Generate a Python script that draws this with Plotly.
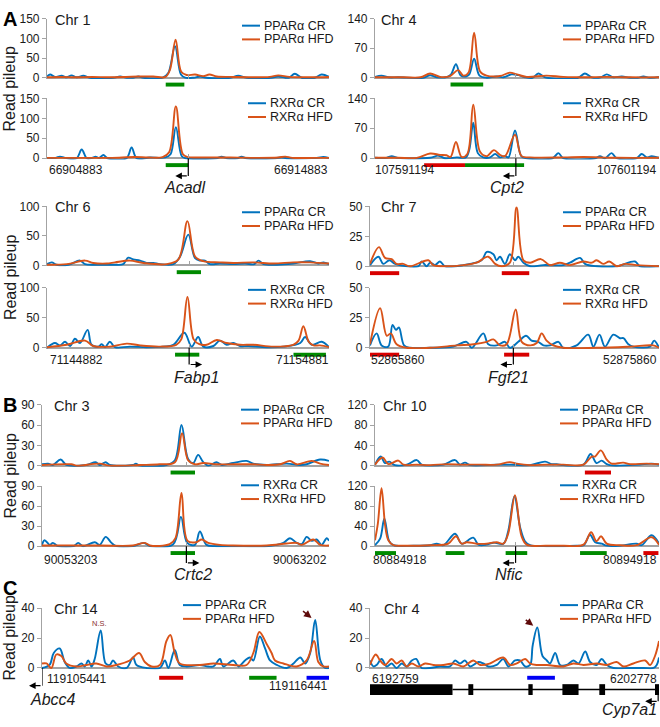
import plotly.graph_objects as go

# ======================= DATA =======================
genes = ['Acadl', 'Cpt2', 'Fabp1', 'Fgf21', 'Crtc2', 'Nfic', 'Abcc4', 'Cyp7a1']
chroms = ['Chr 1', 'Chr 4', 'Chr 6', 'Chr 7', 'Chr 3', 'Chr 10', 'Chr 14', 'Chr 4']
region_start = [66904883, 107591194, 71144882, 52865860, 90053203, 80884918, 119105441, 6192759]
region_end = [66914883, 107601194, 71154881, 52875860, 90063202, 80894918, 119116441, 6202778]
y_max = [150, 140, 100, 50, 90, 120, 40, 40]
y_step = [50, 70, 50, 25, 30, 40, 20, 20]
tss_kb = [5.01, 4.96, 5.04, 4.96, 5.03, 4.95, 0.0, 9.99]
strand = [-1, -1, 1, -1, 1, -1, -1, -1]

# positions in kb from region start, values = read pileup
acadl_ppar_cr_x = [0, 0.11, 0.28, 0.52, 0.70, 0.87, 1.05, 1.29, 1.52, 2.35, 2.59, 2.83, 3.05, 3.24, 3.42, 4.10, 4.30, 4.54, 4.75, 4.90, 5.20, 5.43, 5.65, 6.50, 6.78, 7.08, 7.95, 8.20, 8.45, 8.58, 8.79, 9.03, 9.50, 9.74, 10.0]
acadl_ppar_cr_y = [3, 8, 2, 5, 1, 6, 1, 5, 0, 0, 3, 0, 0, 3, 0, 0, 12, 80, 8, 0, 0, 3, 0, 0, 5, 0, 0, 3, 0, 0, 10, 0, 0, 8, 2]
acadl_ppar_hfd_x = [0, 0.5, 1.0, 1.6, 2.2, 2.8, 3.24, 3.77, 4.20, 4.36, 4.56, 4.76, 4.95, 5.25, 5.54, 5.76, 6.02, 6.60, 7.30, 7.90, 8.20, 8.60, 9.30, 10.0]
acadl_ppar_hfd_y = [1, 2, 1, 2, 1, 2, 3, 3, 2, 20, 97, 15, 7, 8, 4, 8, 3, 2, 1, 2, 6, 2, 1, 2]
acadl_rxr_cr_x = [0, 0.30, 0.46, 0.65, 1.05, 1.23, 1.41, 1.60, 1.72, 1.85, 2.00, 2.15, 2.82, 3.00, 3.18, 3.65, 4.20, 4.38, 4.57, 4.78, 4.92, 6.00, 6.19, 6.38, 6.75, 6.90, 7.08, 8.10, 8.32, 8.50, 9.56, 9.80, 10.0]
acadl_rxr_cr_y = [1, 1, 4, 1, 0, 22, 0, 1, 4, 1, 8, 0, 0, 27, 0, 2, 2, 10, 78, 5, 0, 0, 4, 0, 0, 4, 0, 0, 2, 0, 1, 3, 1]
acadl_rxr_hfd_x = [0, 0.8, 1.6, 2.3, 3.1, 3.6, 4.1, 4.33, 4.57, 4.82, 5.0, 5.4, 6.5, 7.5, 8.2, 8.45, 8.7, 9.5, 10.0]
acadl_rxr_hfd_y = [1, 1, 1, 1, 3, 2, 3, 15, 130, 10, 3, 2, 2, 1, 2, 4, 1, 1, 1]

cpt2_ppar_cr_x = [0, 0.23, 0.47, 0.82, 1.70, 1.94, 2.17, 2.55, 2.68, 2.85, 3.02, 3.20, 3.32, 3.49, 3.68, 3.93, 4.28, 4.52, 4.81, 5.05, 5.28, 5.55, 5.75, 5.99, 7.15, 7.39, 7.63, 7.95, 8.16, 8.39, 8.69, 8.98, 9.25, 9.45, 9.68, 10.0]
cpt2_ppar_cr_y = [2, 5, 1, 1, 0, 6, 1, 2, 8, 32, 5, 3, 8, 45, 5, 0, 3, 1, 8, 6, 1, 0, 10, 1, 0, 10, 1, 1, 8, 1, 3, 0, 0, 3, 0, 2]
cpt2_ppar_hfd_x = [0, 1.0, 1.6, 1.94, 2.29, 2.64, 2.93, 3.11, 3.29, 3.49, 3.70, 3.93, 4.40, 4.75, 4.99, 5.34, 6.04, 6.63, 7.40, 8.16, 9.0, 10.0]
cpt2_ppar_hfd_y = [1, 1, 1, 10, 2, 4, 18, 5, 12, 107, 15, 5, 4, 12, 8, 2, 5, 2, 1, 2, 1, 1]
cpt2_rxr_cr_x = [0, 0.40, 0.59, 0.80, 1.94, 2.23, 2.46, 2.88, 3.20, 3.32, 3.46, 3.62, 3.81, 4.05, 4.23, 4.40, 4.58, 4.70, 4.93, 5.15, 5.34, 6.25, 6.46, 6.63, 7.75, 7.92, 8.10, 8.33, 8.51, 9.20, 9.39, 9.57, 9.74, 10.0]
cpt2_rxr_cr_y = [1, 1, 5, 1, 1, 6, 0, 2, 2, 20, 83, 12, 2, 2, 10, 2, 5, 2, 65, 5, 0, 0, 12, 0, 0, 5, 0, 12, 0, 0, 10, 2, 5, 1]
cpt2_rxr_hfd_x = [0, 0.80, 1.47, 1.94, 2.29, 2.52, 2.66, 2.85, 3.05, 3.25, 3.46, 3.70, 3.93, 4.19, 4.40, 4.58, 4.93, 5.16, 5.46, 6.63, 7.34, 8.50, 10.0]
cpt2_rxr_hfd_y = [1, 1, 1, 11, 8, 7, 3, 38, 3, 10, 125, 15, 5, 19, 8, 5, 55, 5, 2, 2, 3, 1, 1]

fabp1_ppar_cr_x = [0, 0.17, 0.34, 0.76, 1.17, 1.35, 1.76, 2.35, 2.70, 2.88, 3.06, 3.30, 3.53, 3.77, 4.01, 4.48, 4.72, 5.01, 5.25, 5.43, 5.60, 5.78, 6.13, 6.61, 7.02, 7.35, 7.50, 7.68, 8.16, 8.73, 9.33, 9.62, 9.80, 10.0]
fabp1_ppar_cr_y = [2, 5, 1, 1, 8, 2, 1, 1, 2, 13, 10, 8, 4, 4, 2, 2, 15, 52, 12, 8, 8, 2, 3, 2, 3, 2, 8, 2, 1, 3, 7, 3, 5, 2]
fabp1_ppar_hfd_x = [0, 0.70, 1.35, 1.64, 2.12, 2.41, 2.94, 3.42, 4.24, 4.66, 4.98, 5.25, 5.54, 6.13, 6.61, 7.32, 8.03, 8.73, 9.33, 10.0]
fabp1_ppar_hfd_y = [1, 2, 8, 4, 3, 5, 8, 4, 2, 10, 75, 15, 7, 5, 4, 5, 3, 5, 5, 3]
fabp1_rxr_cr_x = [0, 0.28, 0.46, 0.64, 0.82, 0.99, 1.17, 1.44, 1.58, 1.82, 1.94, 2.06, 2.23, 2.41, 2.94, 3.53, 4.13, 4.48, 4.87, 5.13, 5.36, 5.54, 5.90, 6.13, 6.37, 6.61, 6.84, 7.14, 7.79, 8.39, 8.98, 9.15, 9.39, 9.74, 10.0]
fabp1_rxr_cr_y = [0, 8, 4, 10, 3, 15, 8, 30, 5, 2, 6, 1, 10, 1, 2, 1, 2, 5, 25, 2, 18, 2, 3, 12, 5, 8, 3, 3, 1, 2, 8, 18, 5, 10, 1]
fabp1_rxr_hfd_x = [0, 0.70, 1.35, 1.64, 2.23, 2.83, 3.30, 4.01, 4.58, 4.76, 4.98, 5.20, 5.40, 5.66, 6.02, 6.37, 6.84, 7.32, 8.03, 8.73, 8.92, 9.09, 9.28, 9.45, 9.68, 10.0]
fabp1_rxr_hfd_y = [1, 5, 12, 3, 2, 7, 4, 2, 5, 14, 85, 14, 6, 5, 13, 8, 5, 5, 2, 5, 12, 36, 10, 4, 4, 1]

fgf21_ppar_cr_x = [0, 0.29, 0.46, 0.67, 0.87, 1.67, 1.79, 1.96, 2.08, 2.25, 2.42, 2.60, 3.23, 3.86, 4.04, 4.27, 4.38, 4.50, 4.67, 4.84, 5.02, 5.13, 5.31, 5.54, 6.00, 6.69, 6.92, 7.27, 7.44, 7.84, 8.54, 9.17, 9.34, 10.0]
fgf21_ppar_cr_y = [1, 8, 2, 5, 2, 0, 4, 0, 3, 1, 4, 0, 1, 5, 12, 10, 5, 8, 2, 10, 5, 8, 3, 0, 1, 1, 3, 7, 2, 0, 0, 4, 0, 0]
fgf21_ppar_hfd_x = [0, 0.31, 0.52, 0.75, 0.92, 1.15, 1.38, 2.02, 2.19, 2.65, 3.23, 3.69, 4.09, 4.33, 4.56, 4.84, 5.07, 5.31, 5.54, 5.91, 6.23, 6.57, 6.92, 7.38, 7.67, 7.84, 8.07, 8.28, 8.54, 8.82, 9.23, 10.0]
fgf21_ppar_hfd_y = [2, 16, 7, 6, 2, 2, 0, 5, 1, 0, 1, 3, 8, 2, 0, 3, 49, 5, 3, 6, 1, 3, 1, 4, 3, 5, 2, 4, 0, 2, 1, 0]
fgf21_rxr_cr_x = [0, 0.23, 0.40, 0.63, 0.78, 0.90, 1.00, 1.18, 1.38, 2.08, 2.88, 3.34, 3.52, 3.92, 4.09, 4.38, 4.67, 4.84, 5.13, 5.40, 5.59, 5.82, 6.00, 6.23, 6.52, 6.69, 7.15, 7.55, 7.73, 7.94, 8.13, 8.42, 8.65, 8.77, 8.94, 9.11, 9.69, 9.83, 10.0]
fgf21_rxr_cr_y = [2, 12, 2, 1, 19, 15, 17, 2, 0, 0, 1, 5, 0, 12, 3, 2, 5, 0, 5, 10, 6, 5, 2, 2, 5, 0, 2, 11, 1, 11, 1, 11, 8, 8, 3, 1, 1, 6, 0]
fgf21_rxr_hfd_x = [0, 0.35, 0.58, 0.72, 0.92, 1.27, 2.08, 3.00, 3.58, 4.04, 4.27, 4.50, 4.73, 5.04, 5.25, 5.54, 5.77, 5.94, 6.11, 6.34, 6.69, 7.84, 9.00, 9.80, 10.0]
fgf21_rxr_hfd_y = [3, 33, 10, 12, 3, 0, 0, 2, 3, 5, 7, 2, 3, 32, 5, 2, 4, 12, 6, 2, 0, 0, 1, 2, 0]

crtc2_ppar_cr_x = [0, 0.21, 0.38, 0.65, 0.85, 1.55, 1.87, 2.01, 2.22, 2.36, 3.17, 3.27, 3.41, 4.34, 4.63, 4.86, 5.09, 5.27, 5.44, 5.62, 5.79, 6.08, 6.26, 6.66, 7.13, 7.36, 7.83, 8.52, 8.99, 9.22, 9.69, 10.0]
crtc2_ppar_cr_y = [2, 3, 1, 9, 1, 1, 5, 1, 5, 1, 1, 3, 0, 1, 8, 60, 10, 4, 16, 5, 0, 5, 1, 4, 7, 3, 1, 3, 1, 2, 9, 7]
crtc2_ppar_hfd_x = [0, 1.02, 1.20, 2.01, 2.36, 3.41, 4.10, 4.63, 4.88, 5.09, 5.33, 5.62, 6.08, 6.66, 7.36, 7.83, 8.29, 8.64, 8.87, 9.40, 9.69, 10.0]
crtc2_ppar_hfd_y = [1, 2, 0, 3, 0, 1, 2, 5, 48, 8, 2, 4, 2, 2, 2, 1, 2, 7, 2, 7, 3, 1]
crtc2_rxr_cr_x = [0, 0.09, 0.27, 0.38, 0.56, 1.10, 1.26, 1.43, 1.84, 2.01, 2.22, 2.42, 2.59, 3.17, 3.55, 3.76, 4.57, 4.84, 5.06, 5.33, 5.50, 5.73, 6.08, 6.66, 7.83, 8.41, 8.64, 8.87, 9.05, 9.22, 9.40, 9.57, 9.74, 9.92, 10.0]
crtc2_rxr_cr_y = [2, 9, 2, 5, 0, 0, 5, 0, 6, 2, 14, 5, 0, 0, 5, 0, 3, 44, 5, 2, 22, 2, 0, 0, 0, 5, 12, 5, 3, 14, 8, 10, 2, 12, 8]
crtc2_rxr_hfd_x = [0, 2.01, 3.17, 3.58, 3.76, 4.45, 4.65, 4.86, 5.07, 5.38, 5.56, 5.79, 6.20, 6.66, 7.83, 8.52, 8.87, 9.05, 9.45, 9.69, 10.0]
crtc2_rxr_hfd_y = [1, 1, 1, 5, 1, 3, 12, 80, 8, 6, 10, 5, 2, 1, 1, 4, 5, 2, 10, 2, 1]

nfic_ppar_cr_x = [0, 0.20, 0.35, 0.50, 0.70, 1.12, 1.47, 1.64, 1.94, 2.41, 2.82, 2.99, 3.17, 3.35, 4.28, 4.81, 5.46, 5.99, 6.22, 6.40, 6.63, 7.34, 7.59, 7.80, 7.98, 8.16, 8.39, 8.98, 9.33, 9.74, 10.0]
nfic_ppar_cr_y = [2, 18, 5, 8, 1, 2, 11, 2, 0, 2, 11, 2, 6, 1, 2, 2, 1, 8, 3, 3, 1, 2, 23, 5, 10, 3, 0, 1, 2, 4, 2]
nfic_ppar_hfd_x = [0, 0.27, 0.47, 0.82, 1.00, 1.47, 1.94, 2.52, 3.11, 3.70, 4.28, 4.75, 4.99, 5.46, 6.04, 6.63, 7.34, 7.63, 7.75, 7.95, 8.16, 8.33, 8.74, 8.98, 9.57, 10.0]
nfic_ppar_hfd_y = [2, 16, 3, 10, 2, 2, 1, 3, 2, 2, 2, 7, 4, 1, 2, 2, 2, 18, 18, 30, 12, 4, 6, 3, 4, 3]
nfic_rxr_cr_x = [0, 0.18, 0.33, 0.50, 0.65, 1.35, 1.94, 2.17, 2.41, 2.82, 3.05, 3.46, 3.64, 3.93, 4.17, 4.52, 4.69, 4.91, 5.11, 5.28, 5.46, 6.04, 6.63, 7.10, 7.35, 7.57, 7.75, 7.98, 8.16, 8.63, 9.21, 9.39, 9.74, 10.0]
nfic_rxr_cr_y = [2, 15, 55, 10, 2, 1, 2, 5, 2, 25, 5, 17, 3, 3, 7, 5, 30, 100, 38, 10, 2, 0, 0, 1, 2, 23, 8, 5, 1, 1, 5, 2, 22, 5]
nfic_rxr_hfd_x = [0, 0.10, 0.23, 0.36, 0.47, 0.65, 1.00, 1.94, 2.58, 2.85, 3.05, 3.23, 3.58, 3.93, 4.28, 4.52, 4.69, 4.93, 5.16, 5.34, 6.04, 6.63, 7.34, 7.61, 7.80, 7.96, 8.16, 8.63, 9.21, 9.74, 10.0]
nfic_rxr_hfd_y = [12, 45, 116, 40, 12, 2, 1, 2, 5, 20, 5, 8, 5, 5, 8, 5, 25, 102, 20, 3, 1, 1, 3, 28, 10, 20, 5, 2, 2, 18, 3]

abcc4_ppar_cr_x = [0, 0.29, 0.45, 0.68, 0.87, 1.06, 1.32, 1.51, 1.64, 1.77, 1.90, 2.02, 2.25, 2.44, 2.60, 2.72, 2.92, 3.24, 3.49, 3.62, 4.00, 4.52, 4.71, 4.84, 5.09, 5.28, 5.54, 6.05, 6.37, 6.57, 6.82, 6.95, 7.33, 7.53, 7.78, 7.97, 8.10, 8.35, 8.55, 8.74, 9.00, 9.38, 9.64, 9.90, 10.09, 10.28, 10.47, 10.67, 10.85, 11.0]
abcc4_ppar_cr_y = [0, 2, 10, 13, 4, 0, 1, 3, 1, 5, 1, 6, 25, 3, 2, 5, 1, 0, 7, 2, 0, 0, 5, 0, 12, 2, 1, 2, 1, 1, 6, 1, 5, 1, 5, 7, 5, 21, 13, 5, 2, 0, 3, 7, 3, 10, 32, 5, 0, 0]
abcc4_ppar_hfd_x = [0, 0.17, 0.36, 0.55, 0.74, 0.93, 1.32, 1.70, 2.08, 2.47, 2.85, 3.36, 3.72, 3.94, 4.20, 4.52, 4.77, 4.92, 5.09, 5.28, 6.05, 6.57, 7.33, 7.84, 8.10, 8.33, 8.61, 8.80, 8.93, 9.25, 9.76, 10.14, 10.43, 10.59, 10.78, 11.0]
abcc4_ppar_hfd_y = [3, 3, 0, 9, 8, 3, 1, 2, 3, 1, 2, 5, 10, 4, 1, 2, 18, 22, 10, 3, 2, 3, 2, 2, 10, 24, 16, 10, 5, 3, 1, 5, 18, 4, 1, 1]

cyp7a1_ppar_cr_x = [0, 0.12, 0.23, 0.40, 0.58, 0.75, 0.92, 1.10, 1.27, 1.45, 1.60, 1.79, 2.08, 2.43, 2.77, 2.95, 3.12, 3.29, 3.47, 3.76, 3.93, 4.10, 4.39, 4.62, 4.80, 5.03, 5.20, 5.38, 5.55, 5.64, 5.80, 5.98, 6.13, 6.24, 6.42, 6.59, 6.82, 7.05, 7.23, 7.46, 7.63, 7.86, 8.03, 8.21, 8.44, 9.02, 9.48, 9.83, 9.94, 10.02]
cyp7a1_ppar_cr_y = [5, 1, 2, 6, 1, 3, 0, 3, 1, 5, 6, 0, 0, 1, 1, 5, 3, 5, 1, 4, 3, 1, 2, 6, 1, 5, 5, 1, 2, 15, 27, 8, 5, 3, 10, 2, 2, 5, 3, 11, 4, 2, 6, 2, 0, 0, 0, 0, 2, 7]
cyp7a1_ppar_hfd_x = [0, 0.20, 0.35, 0.52, 0.75, 0.92, 1.10, 1.27, 1.45, 1.68, 1.91, 2.20, 2.54, 2.89, 3.24, 3.58, 3.82, 4.16, 4.62, 4.86, 5.09, 5.38, 5.55, 5.78, 6.13, 6.71, 7.05, 7.40, 7.86, 8.21, 8.55, 8.79, 9.13, 9.54, 9.71, 9.88, 10.02]
cyp7a1_ppar_hfd_y = [2, 9, 5, 2, 6, 3, 5, 1, 3, 1, 3, 2, 2, 3, 1, 5, 2, 3, 7, 2, 3, 6, 3, 2, 2, 1, 3, 2, 3, 2, 4, 1, 3, 5, 2, 8, 18]

# binding-site regions (kb start, kb end, colour code)
acadl_ppar_sites = [(4.21, 4.87, 'g')]
acadl_rxr_sites = [(4.21, 5.01, 'g')]
cpt2_ppar_sites = [(2.66, 3.81, 'g')]
cpt2_rxr_sites = [(1.73, 3.17, 'r'), (3.17, 5.25, 'g')]
fabp1_ppar_sites = [(4.60, 5.46, 'g')]
fabp1_rxr_sites = [(4.54, 5.40, 'g'), (8.74, 9.89, 'g')]
fgf21_ppar_sites = [(0.0, 1.01, 'r'), (4.56, 5.51, 'r')]
fgf21_rxr_sites = [(0.0, 1.01, 'r'), (4.64, 5.51, 'r')]
crtc2_ppar_sites = [(4.48, 5.33, 'g')]
crtc2_rxr_sites = [(4.48, 5.33, 'g')]
nfic_ppar_sites = [(7.39, 8.31, 'r')]
nfic_rxr_sites = [(0.0, 0.74, 'g'), (2.49, 3.15, 'g'), (4.60, 5.36, 'g'), (7.22, 8.16, 'g'), (9.45, 9.98, 'r')]
abcc4_ppar_sites = [(4.49, 5.41, 'r'), (7.94, 8.99, 'g'), (10.14, 11.0, 'b')]
cyp7a1_ppar_sites = [(5.45, 6.41, 'b')]

# Cyp7a1 gene model (kb)
cyp7a1_exons = [(0.0, 2.86), (3.41, 3.58), (5.49, 5.64), (6.67, 7.23), (7.95, 8.15), (9.88, 10.02)]
cyp7a1_chevrons = [3.06, 3.87, 4.57, 5.14, 6.07, 6.47, 7.57, 8.55, 9.08, 9.54]

# highlighted peaks (kb, pileup)
abcc4_marked_peak = (10.33, 33.4)
abcc4_ns_peak = (2.21, 29.5)
cyp7a1_marked_peak = (5.66, 28.2)

# ======================= FIGURE =======================
W, H = 660, 727
FONT = 'Arial, Liberation Sans, sans-serif'
TXT = '#1a1a1a'
AX = '#a3a3a3'
BLUE, ORANGE = '#0072BD', '#D95319'
SITE_COL = {'g': '#008a00', 'r': '#d80000', 'b': '#0000f5'}


def fx(p):
    return p / W


def fy(p):
    return 1 - p / H


track_gene = [0, 0, 1, 1, 2, 2, 3, 3, 4, 4, 5, 5, 6, 7]
track_factor = ['PPARα', 'RXRα'] * 6 + ['PPARα', 'PPARα']
track_series = [
    (acadl_ppar_cr_x, acadl_ppar_cr_y, acadl_ppar_hfd_x, acadl_ppar_hfd_y),
    (acadl_rxr_cr_x, acadl_rxr_cr_y, acadl_rxr_hfd_x, acadl_rxr_hfd_y),
    (cpt2_ppar_cr_x, cpt2_ppar_cr_y, cpt2_ppar_hfd_x, cpt2_ppar_hfd_y),
    (cpt2_rxr_cr_x, cpt2_rxr_cr_y, cpt2_rxr_hfd_x, cpt2_rxr_hfd_y),
    (fabp1_ppar_cr_x, fabp1_ppar_cr_y, fabp1_ppar_hfd_x, fabp1_ppar_hfd_y),
    (fabp1_rxr_cr_x, fabp1_rxr_cr_y, fabp1_rxr_hfd_x, fabp1_rxr_hfd_y),
    (fgf21_ppar_cr_x, fgf21_ppar_cr_y, fgf21_ppar_hfd_x, fgf21_ppar_hfd_y),
    (fgf21_rxr_cr_x, fgf21_rxr_cr_y, fgf21_rxr_hfd_x, fgf21_rxr_hfd_y),
    (crtc2_ppar_cr_x, crtc2_ppar_cr_y, crtc2_ppar_hfd_x, crtc2_ppar_hfd_y),
    (crtc2_rxr_cr_x, crtc2_rxr_cr_y, crtc2_rxr_hfd_x, crtc2_rxr_hfd_y),
    (nfic_ppar_cr_x, nfic_ppar_cr_y, nfic_ppar_hfd_x, nfic_ppar_hfd_y),
    (nfic_rxr_cr_x, nfic_rxr_cr_y, nfic_rxr_hfd_x, nfic_rxr_hfd_y),
    (abcc4_ppar_cr_x, abcc4_ppar_cr_y, abcc4_ppar_hfd_x, abcc4_ppar_hfd_y),
    (cyp7a1_ppar_cr_x, cyp7a1_ppar_cr_y, cyp7a1_ppar_hfd_x, cyp7a1_ppar_hfd_y),
]
track_sites = [acadl_ppar_sites, acadl_rxr_sites, cpt2_ppar_sites, cpt2_rxr_sites,
               fabp1_ppar_sites, fabp1_rxr_sites, fgf21_ppar_sites, fgf21_rxr_sites,
               crtc2_ppar_sites, crtc2_rxr_sites, nfic_ppar_sites, nfic_rxr_sites,
               abcc4_ppar_sites, cyp7a1_ppar_sites]

# pixel geometry of each track: left, right, top(max value), bottom(zero)
geom = [(47, 329, 12, 72), (47, 329, 93, 154),
        (375, 659, 12, 72), (375, 659, 93, 154),
        (47, 329, 203, 263), (47, 329, 286, 347),
        (370, 659, 203, 264), (370, 659, 286, 347),
        (42, 329, 405, 467), (42, 329, 488, 549),
        (375, 659, 405, 467), (375, 659, 488, 549),
        (42, 329, 612, 673), (370, 659, 612, 673)]
legend_pos = [(242, 19), (248, 98), (563, 19), (563, 98),
              (242, 209), (248, 288), (563, 209), (563, 288),
              (241, 410), (241, 487), (560, 410), (560, 487),
              (183, 609), (560, 609)]
chr_pos = {0: (53, 13), 2: (379, 13), 4: (53, 204), 6: (379, 204),
           8: (52, 406), 10: (381, 406), 12: (52, 613), 13: (382, 613)}
# coordinate labels: (track, left x, left y, right x, right y)
coord_pos = [(1, 47, 166, 330, 166), (3, 373, 166, 659, 166),
             (5, 48, 359, 331, 359), (7, 369, 359, 659, 359),
             (9, 42, 563, 329, 563), (11, 371, 563, 659, 563),
             (12, 45, 684, 330, 691), (13, 370, 684, 659, 684)]
# gene TSS arrows: (track, arrow y px, label x, label y, label anchor, vertical start y)
gene_pos = [(1, 172, 184, 184, 'center', None), (3, 172, 507, 184, 'center', None),
            (5, 364, 196, 377, 'center', None), (7, 364, 508, 377, 'center', None),
            (9, 566, 193, 578, 'center', None), (11, 566, 509, 578, 'center', None),
            (12, 691, 28, 705, 'left', None), (13, 707, 659, 715, 'right', 697)]

fig = go.Figure()
layout = dict(width=W, height=H, margin=dict(l=0, r=0, t=0, b=0),
              paper_bgcolor='white', plot_bgcolor='rgba(0,0,0,0)',
              showlegend=False, font=dict(family=FONT, size=12, color=TXT))
shapes, annos = [], []

for i in range(14):
    n = i + 1
    sfx = '' if n == 1 else str(n)
    L, R, T, B = geom[i]
    g = track_gene[i]
    span = (region_end[g] - region_start[g]) / 1000.0
    ymax = y_max[g]
    upp = ymax / (B - T)
    pad = 1.2 * upp
    has_tick = g < 6
    layout['xaxis' + sfx] = dict(domain=[fx(L), fx(R)], range=[0, span], anchor='y' + sfx,
                                 showline=False, showgrid=False, zeroline=False,
                                 showticklabels=False, ticks='inside' if has_tick else '',
                                 tickvals=[tss_kb[g]] if has_tick else [], ticklen=5,
                                 tickcolor=AX, tickwidth=1, fixedrange=True)
    layout['yaxis' + sfx] = dict(domain=[fy(B + 1.2), fy(T)], range=[-pad, ymax], anchor='x' + sfx,
                                 tickvals=list(range(0, ymax + 1, y_step[g])), ticks='outside',
                                 ticklen=4, tickcolor=AX, tickwidth=1, showline=True, linecolor=AX,
                                 linewidth=1.2, showgrid=False, zeroline=True, zerolinecolor=AX,
                                 zerolinewidth=1.5, tickfont=dict(size=12, color=TXT, family=FONT),
                                 fixedrange=True)
    xs_cr, ys_cr, xs_hfd, ys_hfd = track_series[i]
    fac = track_factor[i]
    for xs, ys, col, nm in ((xs_cr, ys_cr, BLUE, fac + ' CR'), (xs_hfd, ys_hfd, ORANGE, fac + ' HFD')):
        fig.add_trace(go.Scatter(x=xs, y=ys, mode='lines', name=nm,
                                 line=dict(color=col, width=1.9, shape='spline', smoothing=1.0),
                                 xaxis='x' + sfx, yaxis='y' + sfx, hoverinfo='skip', showlegend=False))
    # binding sites
    off = 10 if g >= 6 else 7
    for a, b, c in track_sites[i]:
        shapes.append(dict(type='rect', xref='x' + sfx, yref='paper', x0=a, x1=min(b, span),
                           y0=fy(B + off + 2), y1=fy(B + off - 2), fillcolor=SITE_COL[c],
                           line=dict(width=0), layer='above'))
    # legend
    lx, ly = legend_pos[i]
    for k, (nm, col) in enumerate(((fac + ' CR', BLUE), (fac + ' HFD', ORANGE))):
        yy = ly + 14 * k
        shapes.append(dict(type='line', xref='paper', yref='paper', x0=fx(lx), x1=fx(lx + 18),
                           y0=fy(yy), y1=fy(yy), line=dict(color=col, width=2)))
        annos.append(dict(xref='paper', yref='paper', x=fx(lx + 20), y=fy(yy), text=nm,
                          showarrow=False, xanchor='left', yanchor='middle',
                          font=dict(size=12.5, color=TXT)))
    if i in chr_pos:
        cx, cy = chr_pos[i]
        annos.append(dict(xref='paper', yref='paper', x=fx(cx), y=fy(cy), text=chroms[g],
                          showarrow=False, xanchor='left', yanchor='middle',
                          font=dict(size=14.5, color=TXT)))

# genomic coordinate labels
for t, lx, ly, rx, ry in coord_pos:
    g = track_gene[t]
    annos.append(dict(xref='paper', yref='paper', x=fx(lx), y=fy(ly), text=str(region_start[g]),
                      showarrow=False, xanchor='left', yanchor='middle', font=dict(size=12, color=TXT)))
    annos.append(dict(xref='paper', yref='paper', x=fx(rx), y=fy(ry), text=str(region_end[g]),
                      showarrow=False, xanchor='right', yanchor='middle', font=dict(size=12, color=TXT)))

# gene names and TSS arrows
for t, ay_px, gx, gy, anc, vstart in gene_pos:
    g = track_gene[t]
    L, R, T, B = geom[t]
    span = (region_end[g] - region_start[g]) / 1000.0
    sfx = str(t + 1)
    y_top = B if vstart is None else vstart
    shapes.append(dict(type='line', xref='x' + sfx, yref='paper', x0=tss_kb[g], x1=tss_kb[g],
                       y0=fy(y_top), y1=fy(ay_px), line=dict(color='black', width=1.2)))
    alen = 13
    tss_px = L + tss_kb[g] / span * (R - L)
    tip_px = tss_px + strand[g] * alen
    annos.append(dict(xref='paper', yref='paper', x=fx(tip_px), y=fy(ay_px), text='', showarrow=True,
                      axref='pixel', ayref='pixel', ax=-strand[g] * alen, ay=0, arrowhead=2,
                      arrowsize=1.1, arrowwidth=1.2, arrowcolor='black', standoff=0))
    annos.append(dict(xref='paper', yref='paper', x=fx(gx), y=fy(gy), text='<i>' + genes[g] + '</i>',
                      showarrow=False, xanchor=anc, yanchor='middle', font=dict(size=16, color=TXT)))

# Cyp7a1 gene model
L, R, T, B = geom[13]
gene_y = 695
shapes.append(dict(type='line', xref='x14', yref='paper', x0=cyp7a1_exons[0][1], x1=cyp7a1_exons[-1][0],
                   y0=fy(gene_y), y1=fy(gene_y), line=dict(color='black', width=1.5)))
for a, b in cyp7a1_exons:
    shapes.append(dict(type='rect', xref='x14', yref='paper', x0=a, x1=b, y0=fy(gene_y + 5.5),
                       y1=fy(gene_y - 5.5), fillcolor='black', line=dict(width=0)))
chev_y = -(gene_y - B) * y_max[7] / (B - T)
fig.add_trace(go.Scatter(x=cyp7a1_chevrons, y=[chev_y] * len(cyp7a1_chevrons), mode='markers',
                         marker=dict(symbol='triangle-left', size=6, color='black'),
                         xaxis='x14', yaxis='y14', cliponaxis=False, hoverinfo='skip', showlegend=False))

# peak markers in panel C
DARKRED = '#5e0a0a'
annos.append(dict(xref='x13', yref='y13', x=abcc4_marked_peak[0], y=abcc4_marked_peak[1], text='',
                  showarrow=True, axref='pixel', ayref='pixel', ax=-10, ay=-8, arrowhead=2,
                  arrowsize=1, arrowwidth=1.5, arrowcolor=DARKRED, standoff=0))
annos.append(dict(xref='x14', yref='y14', x=cyp7a1_marked_peak[0], y=cyp7a1_marked_peak[1], text='',
                  showarrow=True, axref='pixel', ayref='pixel', ax=-9, ay=-7, arrowhead=2,
                  arrowsize=1, arrowwidth=1.5, arrowcolor=DARKRED, standoff=0))
annos.append(dict(xref='x13', yref='y13', x=abcc4_ns_peak[0], y=abcc4_ns_peak[1], text='N.S.',
                  showarrow=False, xanchor='center', yanchor='middle', font=dict(size=7.5, color='#8b3030')))

# y titles and panel letters
for yc in (83, 275, 477, 642):
    annos.append(dict(xref='paper', yref='paper', x=fx(10), y=fy(yc), text='Read pileup', textangle=-90,
                      showarrow=False, xanchor='center', yanchor='middle', font=dict(size=16, color=TXT)))
for letter, yc in (('A', 12), ('B', 405), ('C', 592)):
    annos.append(dict(xref='paper', yref='paper', x=fx(1), y=fy(yc), text='<b>' + letter + '</b>',
                      showarrow=False, xanchor='left', yanchor='middle', font=dict(size=20, color='black')))

layout['shapes'] = shapes
layout['annotations'] = annos
fig.update_layout(**layout)
fig.write_html('out.html', config={'displayModeBar': False},
               post_script="document.body.style.margin='0';document.body.style.padding='0';"
                           "document.body.style.overflow='hidden';")
